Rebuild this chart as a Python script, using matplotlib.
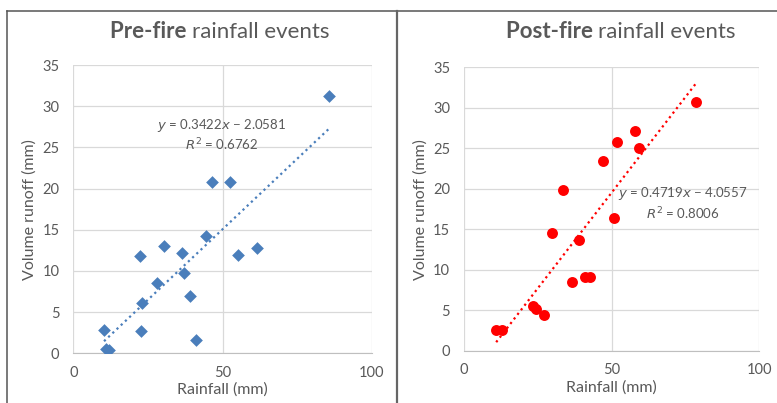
import numpy as np
import matplotlib
matplotlib.use("Agg")
import matplotlib.pyplot as plt
from matplotlib.lines import Line2D

# pre-fire events (rainfall mm, runoff mm)
pre_rain = [10.3, 10.9, 12.1, 22.5, 22.7, 23.1, 27.9, 30.4, 36.4, 37.0,
            39.2, 41.2, 44.6, 46.4, 52.4, 55.3, 61.7, 85.7]
pre_runoff = [2.83, 0.49, 0.40, 11.8, 2.70, 6.07, 8.50, 13.07, 12.18, 9.71,
              6.96, 1.58, 14.29, 20.76, 20.76, 11.9, 12.83, 31.28]

# post-fire events
post_rain = [10.9, 12.75, 23.25, 24.4, 27.1, 29.9, 33.5, 36.5, 38.9, 41.1,
             42.7, 47.2, 50.9, 51.9, 57.9, 59.4, 78.6]
post_runoff = [2.59, 2.63, 5.59, 5.18, 4.44, 14.56, 19.9, 8.56, 13.74, 9.17,
               9.17, 23.45, 16.37, 25.83, 27.15, 25.09, 30.77]

# trendlines as reported in the chart
pre_fit = (0.3422, -2.0581, 0.6762)
post_fit = (0.4719, -4.0557, 0.8006)

TXT = "#595959"
GRID = "#d9d9d9"
plt.rcParams["font.family"] = ["Lato", "DejaVu Sans"]

fig = plt.figure(figsize=(7.77, 4.03), dpi=100)
W, H = 777, 403


def px_axes(x0, x1, y_top, y_bot):
    return fig.add_axes([x0 / W, 1 - y_bot / H, (x1 - x0) / W, (y_bot - y_top) / H])


def style(ax):
    ax.set_xlim(0, 100)
    ax.set_ylim(0, 35)
    ax.set_xticks([0, 50, 100])
    ax.set_yticks(range(0, 36, 5))
    ax.grid(True, color=GRID, lw=0.9)
    ax.set_axisbelow(True)
    for s in ax.spines.values():
        s.set_visible(False)
    ax.spines["bottom"].set_visible(True)
    ax.spines["bottom"].set_color("#bfbfbf")
    ax.tick_params(length=0, colors=TXT, labelsize=10.5)
    ax.tick_params(axis="y", pad=10)
    ax.tick_params(axis="x", pad=9)
    ax.set_xlabel("Rainfall (mm)", color=TXT, fontsize=11.5, labelpad=2)
    ax.set_ylabel("Volume runoff (mm)", color=TXT, fontsize=11.5, labelpad=4)


def trend(ax, xs, fit, color):
    m, b, r2 = fit
    xx = np.array([min(xs), max(xs)])
    ax.plot(xx, m * xx + b, ls=(0, (1, 1.6)), color=color, lw=1.6, zorder=2)


# left panel
ax1 = px_axes(73.3, 371.7, 65, 353.3)
style(ax1)
trend(ax1, pre_rain, pre_fit, "#4a7ebb")
ax1.scatter(pre_rain, pre_runoff, marker="D", s=42, color="#4a7ebb", zorder=3, linewidths=0)
ax1.text(49.8, 27.6, r"$\it{y}$ = 0.3422$\it{x}$ − 2.0581", ha="center", va="center",
         color=TXT, fontsize=9.5)
ax1.text(49.8, 25.3, r"$\it{R}^2$ = 0.6762", ha="center", va="center", color=TXT, fontsize=9.5)

# right panel
ax2 = px_axes(464, 759.3, 67.3, 351)
style(ax2)
trend(ax2, post_rain, post_fit, "#ff0000")
ax2.scatter(post_rain, post_runoff, marker="o", s=62, color="#ff0000", zorder=3, linewidths=0)
ax2.text(74.1, 19.4, r"$\it{y}$ = 0.4719$\it{x}$ − 4.0557", ha="center", va="center",
         color=TXT, fontsize=9.5)
ax2.text(74.1, 17.0, r"$\it{R}^2$ = 0.8006", ha="center", va="center", color=TXT, fontsize=9.5)

# titles: bold first word, regular rest, centred together
renderer = fig.canvas.get_renderer()
for cx, bold in [(220, "Pre-fire"), (621, "Post-fire")]:
    t1 = fig.text(0, 1 - 32 / H, bold + " ", fontsize=16, fontweight="bold",
                  color=TXT, va="center")
    t2 = fig.text(0, 1 - 32 / H, "rainfall events", fontsize=16, color=TXT, va="center")
    w1 = t1.get_window_extent(renderer=renderer).width
    w2 = t2.get_window_extent(renderer=renderer).width
    left = cx - (w1 + w2) / 2
    t1.set_x(left / W)
    t2.set_x((left + w1) / W)

# panel borders
fig.add_artist(Line2D([7 / W, 1], [1 - 11 / H] * 2, color="#555555", lw=1.1))
fig.add_artist(Line2D([7 / W] * 2, [0, 1 - 11 / H], color="#555555", lw=1.1))
fig.add_artist(Line2D([397 / W] * 2, [0, 1 - 11 / H], color="#666666", lw=1.6))

fig.savefig("out.png", dpi=100)
